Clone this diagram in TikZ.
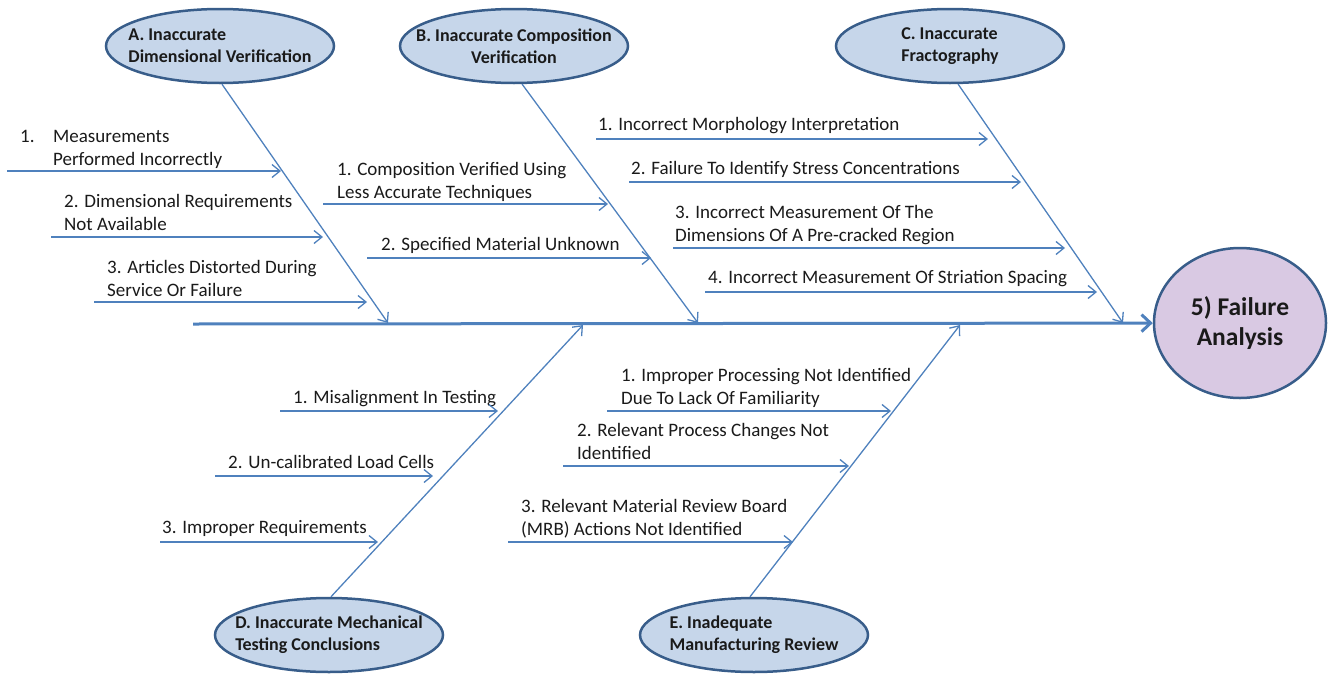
\documentclass[tikz,border=0pt]{standalone}
\usepackage{fontspec}
\setmainfont{Carlito}
\usetikzlibrary{shapes.geometric,arrows.meta}
\definecolor{bone}{HTML}{4F81BD}
\definecolor{rim}{HTML}{385D8A}
\definecolor{causefill}{HTML}{C6D6EA}
\definecolor{effectfill}{HTML}{D9C9E3}
\definecolor{ink}{HTML}{1A1A1A}

\begin{document}
\begin{tikzpicture}[x=1pt,y=-1pt,
  cause/.style={ellipse, draw=rim, line width=2.5pt, fill=causefill,
    minimum width=228pt, minimum height=74pt, inner xsep=-22pt, inner ysep=0pt,
    align=left, text=ink, font=\bfseries\fontsize{18}{22}\selectfont},
  effect/.style={ellipse, draw=rim, line width=2.5pt, fill=effectfill,
    minimum width=172pt, minimum height=150pt, inner sep=0pt, align=center,
    text=ink, font=\bfseries\fontsize{25.5}{30}\selectfont},
  lbl/.style={anchor=base west, inner sep=0pt, align=left, text=ink,
    font=\fontsize{19}{23}\selectfont},
  twig/.style={draw=bone, line width=1.3pt, -{Straight Barb[length=8pt,width=13pt]}},
  spine/.style={draw=bone, line width=3pt, -{Straight Barb[length=9pt,width=17pt]}}
]
\useasboundingbox (0,0) rectangle (1328,675);

% head and cause ellipses
\node[effect] (FA) at (1240,323) {5) Failure\\Analysis};
\node[cause] (A) at (220,46) {A. Inaccurate\\Dimensional Verification};
\node[cause,align=center] (B) at (514,46) {B. Inaccurate Composition\\Verification};
\node[cause] (C) at (950,46) {C. Inaccurate\\Fractography};
\node[cause] (D) at (329,635) {D. Inaccurate Mechanical\\Testing Conclusions};
\node[cause] (E) at (754,635) {E. Inadequate\\Manufacturing Review};

% backbone
\coordinate (tail) at (193,324);
\draw[spine] (tail) -- (FA);

% main bones
\coordinate (sA) at (388,323);
\coordinate (sB) at (698,323);
\coordinate (sC) at (1123,323);
\coordinate (sD) at (583,325);
\coordinate (sE) at (960,325);
\draw[twig] (A.-87) -- (sA);
\draw[twig] (B.-78) -- (sB);
\draw[twig] (C.-78) -- (sC);
\draw[twig] (D.87) -- (sD);
\draw[twig] (E.96) -- (sE);

% sub-causes: A (labels sit on the baseline of their last line)
\node[lbl] (la1) at (20,165) {\makebox[33pt][l]{1.}Measurements\\\hspace*{33pt}Performed Incorrectly};
\node[lbl] (la2) at (64,230) {2. Dimensional Requirements\\Not Available};
\node[lbl] (la3) at (107,296) {3. Articles Distorted During\\Service Or Failure};
\coordinate (a1s) at (7,171);   \coordinate (a1e) at (281,171);
\coordinate (a2s) at (51,237);  \coordinate (a2e) at (323,237);
\coordinate (a3s) at (94,302);  \coordinate (a3e) at (367,302);
\draw[twig] (a1s) -- (a1e);
\draw[twig] (a2s) -- (a2e);
\draw[twig] (a3s) -- (a3e);

% sub-causes: B
\node[lbl] (lb1) at (337,198) {1. Composition Verified Using\\Less Accurate Techniques};
\node[lbl] (lb2) at (381,250) {2. Specified Material Unknown};
\coordinate (b1s) at (323,204); \coordinate (b1e) at (608,204);
\coordinate (b2s) at (367,258); \coordinate (b2e) at (651,258);
\draw[twig] (b1s) -- (b1e);
\draw[twig] (b2s) -- (b2e);

% sub-causes: C
\node[lbl] (lc1) at (598,130) {1. Incorrect Morphology Interpretation};
\node[lbl] (lc2) at (631,174) {2. Failure To Identify Stress Concentrations};
\node[lbl] (lc3) at (675,241) {3. Incorrect Measurement Of The\\Dimensions Of A Pre-cracked Region};
\node[lbl] (lc4) at (708,283) {4. Incorrect Measurement Of Striation Spacing};
\coordinate (c1s) at (596,139); \coordinate (c1e) at (988,139);
\coordinate (c2s) at (629,182); \coordinate (c2e) at (1021,182);
\coordinate (c3s) at (673,248); \coordinate (c3e) at (1065,248);
\coordinate (c4s) at (705,292); \coordinate (c4e) at (1097,292);
\draw[twig] (c1s) -- (c1e);
\draw[twig] (c2s) -- (c2e);
\draw[twig] (c3s) -- (c3e);
\draw[twig] (c4s) -- (c4e);

% sub-causes: D
\node[lbl] (ld1) at (293,403) {1. Misalignment In Testing};
\node[lbl] (ld2) at (228,468) {2. Un-calibrated Load Cells};
\node[lbl] (ld3) at (162,533) {3. Improper Requirements};
\coordinate (d1s) at (280,411); \coordinate (d1e) at (498,411);
\coordinate (d2s) at (215,476); \coordinate (d2e) at (433,476);
\coordinate (d3s) at (160,542); \coordinate (d3e) at (378,542);
\draw[twig] (d1s) -- (d1e);
\draw[twig] (d2s) -- (d2e);
\draw[twig] (d3s) -- (d3e);

% sub-causes: E
\node[lbl] (le1) at (621,404) {1. Improper Processing Not Identified\\Due To Lack Of Familiarity};
\node[lbl] (le2) at (577,459) {2. Relevant Process Changes Not\\Identified};
\node[lbl] (le3) at (521,535) {3. Relevant Material Review Board\\(MRB) Actions Not Identified};
\coordinate (e1s) at (607,411); \coordinate (e1e) at (891,411);
\coordinate (e2s) at (563,466); \coordinate (e2e) at (849,466);
\coordinate (e3s) at (508,542); \coordinate (e3e) at (793,542);
\draw[twig] (e1s) -- (e1e);
\draw[twig] (e2s) -- (e2e);
\draw[twig] (e3s) -- (e3e);
\end{tikzpicture}
\end{document}
